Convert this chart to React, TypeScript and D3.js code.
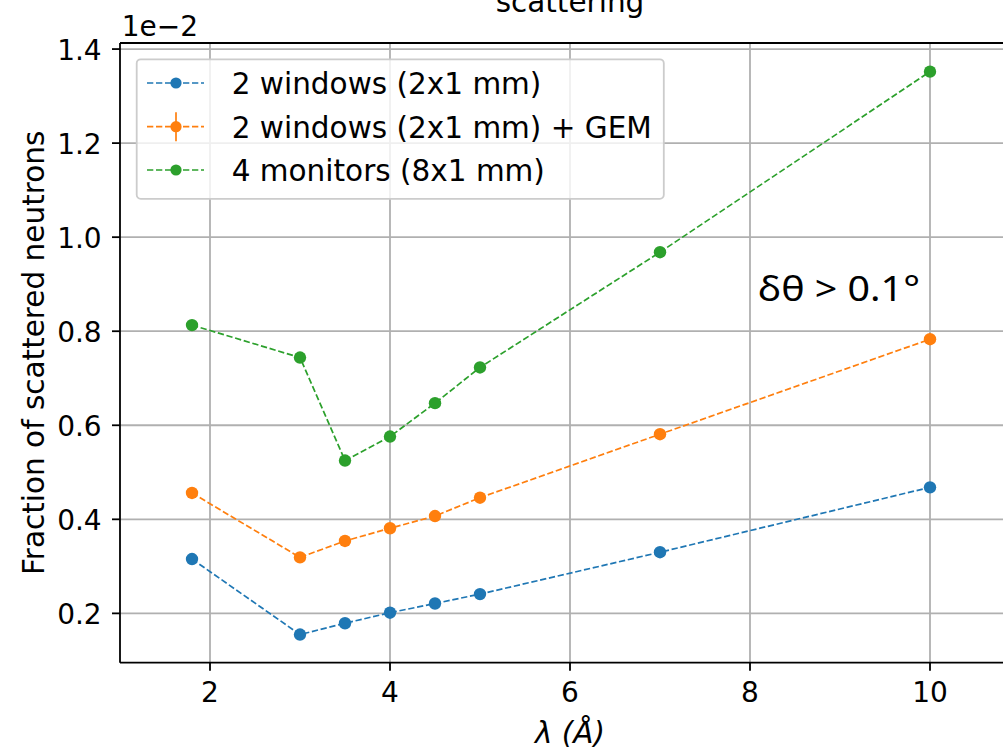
import React, { useEffect, useRef } from "react";
import * as d3 from "d3";

const wavelengths = [1.8, 3, 3.5, 4, 4.5, 5, 7, 10];
const twoWindows = [0.3155, 0.155, 0.179, 0.2014, 0.221, 0.241, 0.33, 0.468];
const twoWindowsGEM = [0.456, 0.319, 0.354, 0.381, 0.407, 0.446, 0.581, 0.783];
const twoWindowsGEMErr = [0.003, 0.003, 0.003, 0.003, 0.003, 0.003, 0.003, 0.003];
const fourMonitors = [0.813, 0.744, 0.525, 0.576, 0.647, 0.723, 0.968, 1.352];

const xTicks = [2, 4, 6, 8, 10];
const yTicks = [0.2, 0.4, 0.6, 0.8, 1.0, 1.2, 1.4];
const seriesNames = ["2 windows (2x1 mm)", "2 windows (2x1 mm) + GEM", "4 monitors (8x1 mm)"];
const seriesColors = ["#1f77b4", "#ff7f0e", "#2ca02c"];
const titleText = "scattering";
const xLabel = "λ (Å)";
const yLabel = "Fraction of scattered neutrons";
const offsetText = "1e\u22122";
const annotation = "δθ > 0.1°";

export default function App() {
  const ref = useRef<SVGSVGElement | null>(null);

  useEffect(() => {
    document.body.style.margin = "0";
    const svg = d3.select(ref.current);
    svg.selectAll("*").remove();

    const left = 120, right = 1020, top = 43, bottom = 662.7;
    const x = d3.scaleLinear().domain([1, 11]).range([left, right]);
    const y = d3.scaleLinear().domain([0.0951, 1.4129]).range([bottom, top]);
    const font = "DejaVu Sans, sans-serif";

    svg.append("rect").attr("width", 1003).attr("height", 749).attr("fill", "white");

    // grid
    const grid = svg.append("g");
    xTicks.forEach((t) => {
      grid.append("line").attr("x1", x(t)).attr("x2", x(t)).attr("y1", top).attr("y2", bottom)
        .attr("stroke", "#b0b0b0").attr("stroke-width", 1.8);
    });
    yTicks.forEach((t) => {
      grid.append("line").attr("x1", left).attr("x2", right).attr("y1", y(t)).attr("y2", y(t))
        .attr("stroke", "#b0b0b0").attr("stroke-width", 1.8);
    });

    const series = [twoWindows, twoWindowsGEM, fourMonitors];
    const line = d3.line<number>().x((_, i) => x(wavelengths[i])).y((d) => y(d));

    series.forEach((vals, si) => {
      const g = svg.append("g");
      g.append("path").attr("d", line(vals) as string).attr("fill", "none")
        .attr("stroke", seriesColors[si]).attr("stroke-width", 1.7)
        .attr("stroke-dasharray", "6.3,2.7");
      if (si === 1) {
        vals.forEach((v, i) => {
          g.append("line").attr("x1", x(wavelengths[i])).attr("x2", x(wavelengths[i]))
            .attr("y1", y(v - twoWindowsGEMErr[i])).attr("y2", y(v + twoWindowsGEMErr[i]))
            .attr("stroke", seriesColors[si]).attr("stroke-width", 1.7);
        });
      }
      vals.forEach((v, i) => {
        g.append("circle").attr("cx", x(wavelengths[i])).attr("cy", y(v)).attr("r", 6.2)
          .attr("fill", seriesColors[si]);
      });
    });

    // spines
    const sp = svg.append("g").attr("stroke", "black").attr("stroke-width", 1.8);
    sp.append("line").attr("x1", left).attr("x2", left).attr("y1", top).attr("y2", bottom);
    sp.append("line").attr("x1", left).attr("x2", right).attr("y1", bottom).attr("y2", bottom);
    sp.append("line").attr("x1", left).attr("x2", right).attr("y1", top).attr("y2", top);
    sp.append("line").attr("x1", right).attr("x2", right).attr("y1", top).attr("y2", bottom);

    // ticks
    xTicks.forEach((t) => {
      svg.append("line").attr("x1", x(t)).attr("x2", x(t)).attr("y1", bottom).attr("y2", bottom + 8)
        .attr("stroke", "black").attr("stroke-width", 1.8);
      svg.append("text").attr("x", x(t)).attr("y", 701.7).attr("text-anchor", "middle")
        .attr("font-family", font).attr("font-size", 28).attr("fill", "black").text(String(t));
    });
    yTicks.forEach((t) => {
      svg.append("line").attr("x1", left - 8).attr("x2", left).attr("y1", y(t)).attr("y2", y(t))
        .attr("stroke", "black").attr("stroke-width", 1.8);
      svg.append("text").attr("x", 101.7).attr("y", y(t) + 10.5).attr("text-anchor", "end")
        .attr("font-family", font).attr("font-size", 28).attr("fill", "black").text(t.toFixed(1));
    });

    svg.append("text").attr("x", 121.7).attr("y", 36).attr("font-family", font).attr("font-size", 28)
      .attr("fill", "black").text(offsetText);

    svg.append("text").attr("x", (left + right) / 2).attr("y", 12).attr("text-anchor", "middle")
      .attr("font-family", font).attr("font-size", 29.5).attr("fill", "black").text(titleText);

    svg.append("text").attr("x", (left + right) / 2).attr("y", 743).attr("text-anchor", "middle")
      .attr("font-family", font).attr("font-style", "italic").attr("font-size", 29.5).attr("fill", "black").text(xLabel);

    svg.append("text").attr("transform", `translate(44,${(top + bottom) / 2}) rotate(-90)`)
      .attr("text-anchor", "middle").attr("font-family", font).attr("font-size", 29.5)
      .attr("fill", "black").text(yLabel);

    svg.append("text").attr("x", 758).attr("y", 300.7).attr("font-family", "Noto Sans, sans-serif")
      .attr("font-size", 35).attr("textLength", 162).attr("lengthAdjust", "spacingAndGlyphs")
      .attr("fill", "black").text(annotation);

    // legend
    const leg = svg.append("g");
    const box = leg.append("rect").attr("x", 136.7).attr("y", 59.3).attr("height", 139.5)
      .attr("rx", 4).attr("fill", "white").attr("fill-opacity", 0.8)
      .attr("stroke", "#cccccc").attr("stroke-width", 1.8);
    const rowsY = [83, 126.7, 170];
    let maxW = 0;
    seriesNames.forEach((name, i) => {
      leg.append("line").attr("x1", 147).attr("x2", 204).attr("y1", rowsY[i]).attr("y2", rowsY[i])
        .attr("stroke", seriesColors[i]).attr("stroke-width", 1.7).attr("stroke-dasharray", "6.3,2.7");
      if (i === 1) {
        leg.append("line").attr("x1", 176).attr("x2", 176).attr("y1", rowsY[i] - 14.5).attr("y2", rowsY[i] + 14.5)
          .attr("stroke", seriesColors[i]).attr("stroke-width", 1.7);
      }
      leg.append("circle").attr("cx", 176).attr("cy", rowsY[i]).attr("r", 5.6).attr("fill", seriesColors[i]);
      const t = leg.append("text").attr("x", 231.7).attr("y", rowsY[i] + 11.3).attr("font-family", font)
        .attr("font-size", 29.5).attr("fill", "black").text(name);
      const node = t.node() as SVGTextElement;
      maxW = Math.max(maxW, node.getComputedTextLength());
    });
    box.attr("width", 231.7 + maxW + 12 - 136.7);
  }, []);

  return <svg ref={ref} width={1003} height={749} style={{ display: "block" }} />;
}
